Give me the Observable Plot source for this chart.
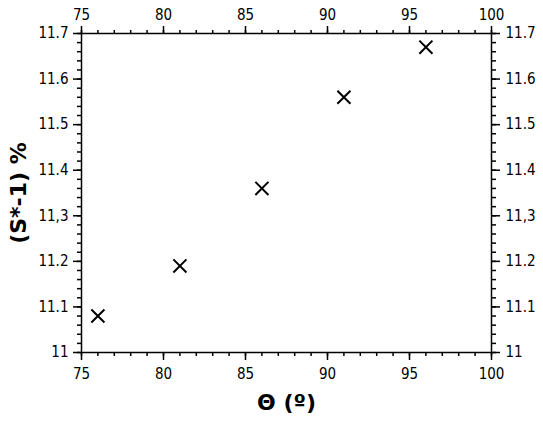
<!DOCTYPE html>
<html>
<head>
<meta charset="utf-8">
<script src="https://cdn.jsdelivr.net/npm/d3@7"></script>
<script src="https://cdn.jsdelivr.net/npm/@observablehq/plot@0.6"></script>
<style>
  html, body { margin: 0; padding: 0; background: #fff; }
</style>
</head>
<body>
<div id="chart"></div>
<script>
// Data
const theta = [76, 81, 86, 91, 96];
const sMinus1 = [11.08, 11.19, 11.36, 11.56, 11.67];

// Tick values and labels
const xTicks = [75, 80, 85, 90, 95, 100];
const xTickLabels = ["75", "80", "85", "90", "95", "100"];
const yTicks = [11, 11.1, 11.2, 11.3, 11.4, 11.5, 11.6, 11.7];
const yTickLabels = ["11", "11.1", "11.2", "11,3", "11.4", "11.5", "11.6", "11.7"];

const xTitle = "Θ (º)";
const yTitle = "(S*-1) %";

const points = theta.map((t, i) => ({theta: t, s: sMinus1[i]}));
const xMinor = d3.range(75, 100.001, 1);
const yMinor = d3.range(0, 36).map(i => 11 + i * 0.02);

const fmtX = d => { const i = xTicks.findIndex(v => Math.abs(v - d) < 1e-9); return i >= 0 ? xTickLabels[i] : ""; };
const fmtY = d => { const i = yTicks.findIndex(v => Math.abs(v - d) < 1e-9); return i >= 0 ? yTickLabels[i] : ""; };

const sw = 1.5;
const tf = {fontSize: 15, fontFamily: "DejaVu Sans Condensed", fill: "black"};
const chart = Plot.plot({
  width: 543,
  height: 423,
  marginLeft: 81,
  marginRight: 52,
  marginTop: 33,
  marginBottom: 71,
  style: {fontFamily: "DejaVu Sans Condensed", fontSize: "15px", color: "black", background: "white"},
  x: {domain: [75, 100]},
  y: {domain: [11, 11.7]},
  marks: [
    Plot.frame({strokeWidth: sw}),
    Plot.axisX({anchor: "bottom", ticks: xTicks, tickSize: 8, tickPadding: 8, tickFormat: fmtX, label: null, strokeWidth: sw, ...tf}),
    Plot.axisX({anchor: "top", ticks: xTicks, tickSize: 8, tickPadding: 6, tickFormat: fmtX, label: null, strokeWidth: sw, ...tf}),
    Plot.axisX({anchor: "bottom", ticks: xMinor, tickSize: 4, text: null, label: null, strokeWidth: sw}),
    Plot.axisX({anchor: "top", ticks: xMinor, tickSize: 4, text: null, label: null, strokeWidth: sw}),
    Plot.axisY({anchor: "left", ticks: yTicks, tickSize: 8, tickPadding: 5, tickFormat: fmtY, label: null, strokeWidth: sw, ...tf}),
    Plot.axisY({anchor: "right", ticks: yTicks, tickSize: 8, tickPadding: 6, tickFormat: fmtY, label: null, strokeWidth: sw, ...tf}),
    Plot.axisY({anchor: "left", ticks: yMinor, tickSize: 4, text: null, label: null, strokeWidth: sw}),
    Plot.axisY({anchor: "right", ticks: yMinor, tickSize: 4, text: null, label: null, strokeWidth: sw}),
    Plot.dot(points, {x: "theta", y: "s", symbol: "times", r: 6, stroke: "black", strokeWidth: 2}),
    Plot.text([xTitle], {frameAnchor: "bottom", dy: 57, fontSize: 22, fontWeight: "bold", fontFamily: "DejaVu Sans", fill: "black"}),
    Plot.text([yTitle], {frameAnchor: "left", dx: -63, rotate: -90, textAnchor: "middle", fontSize: 22, fontWeight: "bold", fontFamily: "DejaVu Sans", fill: "black"})
  ]
});
d3.select(chart).selectAll('g[aria-label$="tick label"]')
  .style("font-size", "15px").style("font-family", "'DejaVu Sans Condensed'")
  .selectAll("text").style("font-size", "15px").style("font-family", "'DejaVu Sans Condensed'");
document.getElementById("chart").appendChild(chart);
</script>
</body>
</html>
